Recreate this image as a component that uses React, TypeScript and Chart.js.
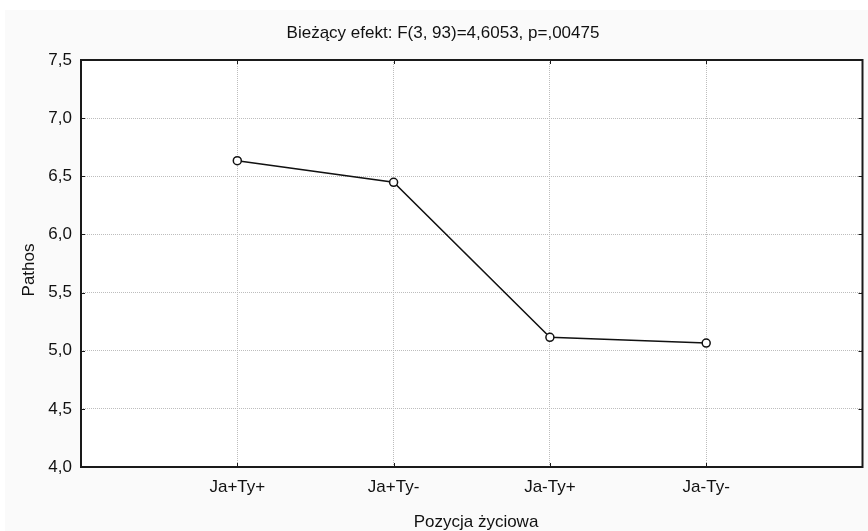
import React, { useEffect, useRef } from "react";
import { Chart, registerables } from "chart.js";

Chart.register(...registerables);

const categories: string[] = ["Ja+Ty+", "Ja+Ty-", "Ja-Ty+", "Ja-Ty-"];
const pathosValues: number[] = [6.634, 6.448, 5.115, 5.066];
const yMin = 4.0;
const yMax = 7.5;
const yStep = 0.5;
const chartTitle = "Bieżący efekt: F(3, 93)=4,6053, p=,00475";
const xTitle = "Pozycja życiowa";
const yTitle = "Pathos";

const FONT = "Liberation Sans, Arial, Helvetica, sans-serif";
const FONT_SIZE = 17;

const framePlugin = {
  id: "framePlugin",
  beforeDraw(chart: any) {
    const { ctx, chartArea, width, height } = chart;
    ctx.save();
    ctx.fillStyle = "#ffffff";
    ctx.fillRect(0, 0, width, height);
    ctx.fillStyle = "#fafafa";
    ctx.fillRect(5, 10, width - 5, height - 10);
    ctx.fillStyle = "#ffffff";
    ctx.fillRect(chartArea.left, chartArea.top, chartArea.right - chartArea.left, chartArea.bottom - chartArea.top);
    ctx.restore();
  },
  afterDraw(chart: any) {
    const { ctx, chartArea } = chart;
    const { left, right, top, bottom } = chartArea;
    const xs = chart.scales.x;
    const ys = chart.scales.y;
    ctx.save();
    ctx.strokeStyle = "#1a1a1a";
    ctx.lineWidth = 2;
    ctx.strokeRect(left, top, right - left, bottom - top);
    ctx.lineWidth = 1;
    ctx.beginPath();
    const tl = 4;
    for (let i = 1; i <= categories.length; i++) {
      const px = Math.round(xs.getPixelForValue(i)) + 0.5;
      ctx.moveTo(px, bottom);
      ctx.lineTo(px, bottom - tl);
      ctx.moveTo(px, top);
      ctx.lineTo(px, top + tl);
    }
    for (let v = yMin + yStep; v < yMax - 1e-9; v += yStep) {
      const py = Math.round(ys.getPixelForValue(v)) + 0.5;
      ctx.moveTo(left, py);
      ctx.lineTo(left + tl, py);
      ctx.moveTo(right, py);
      ctx.lineTo(right - tl, py);
    }
    ctx.stroke();

    ctx.fillStyle = "#111111";
    ctx.font = `${FONT_SIZE}px ${FONT}`;
    ctx.textAlign = "center";
    ctx.textBaseline = "alphabetic";
    ctx.fillText(chartTitle, 443, 38);
    ctx.fillText(xTitle, 476, 527);
    ctx.translate(34, 270);
    ctx.rotate(-Math.PI / 2);
    ctx.fillText(yTitle, 0, 0);
    ctx.restore();
  },
};

export default function App() {
  const canvasRef = useRef<HTMLCanvasElement | null>(null);

  useEffect(() => {
    if (!canvasRef.current) return;
    const labels = ["", ...categories, ""];
    const data = [null, ...pathosValues, null];
    const gridColor = "#bdbdbd";
    const chart = new Chart(canvasRef.current, {
      type: "line",
      data: {
        labels,
        datasets: [
          {
            label: yTitle,
            data: data as any,
            borderColor: "#111111",
            borderWidth: 1.5,
            pointRadius: 4,
            pointHoverRadius: 4,
            pointBackgroundColor: "#ffffff",
            pointBorderColor: "#111111",
            pointBorderWidth: 1.5,
            tension: 0,
            fill: false,
          },
        ],
      },
      options: {
        responsive: false,
        animation: false,
        events: [],
        layout: { padding: { left: 0, right: 5, top: 60, bottom: 0 } },
        plugins: {
          legend: { display: false },
          title: { display: false },
          tooltip: { enabled: false },
        },
        scales: {
          x: {
            type: "category",
            offset: false,
            afterFit: (scale: any) => {
              scale.height = 64;
              scale.paddingLeft = 0;
              scale.paddingRight = 0;
            },
            grid: {
              drawTicks: false,
              color: (ctx: any) =>
                ctx.index === 0 || ctx.index === labels.length - 1 ? "rgba(0,0,0,0)" : gridColor,
              lineWidth: 1,
            },
            border: { display: false, dash: [1, 1] },
            ticks: {
              autoSkip: false,
              maxRotation: 0,
              padding: 10,
              color: "#111111",
              font: { family: FONT, size: FONT_SIZE },
            },
          },
          y: {
            type: "linear",
            min: yMin,
            max: yMax,
            afterFit: (scale: any) => {
              scale.width = 81;
            },
            grid: {
              drawTicks: false,
              color: gridColor,
              lineWidth: 1,
            },
            border: { display: false, dash: [1, 1] },
            ticks: {
              stepSize: yStep,
              padding: 9,
              color: "#111111",
              font: { family: FONT, size: FONT_SIZE },
              callback: (v: any) => Number(v).toFixed(1).replace(".", ","),
            },
          },
        },
      },
      plugins: [framePlugin],
    });
    return () => chart.destroy();
  }, []);

  return (
    <div style={{ position: "fixed", left: 0, top: 0, width: 868, height: 531, background: "#fff" }}>
      <canvas ref={canvasRef} width={868} height={531} style={{ display: "block" }} />
    </div>
  );
}
